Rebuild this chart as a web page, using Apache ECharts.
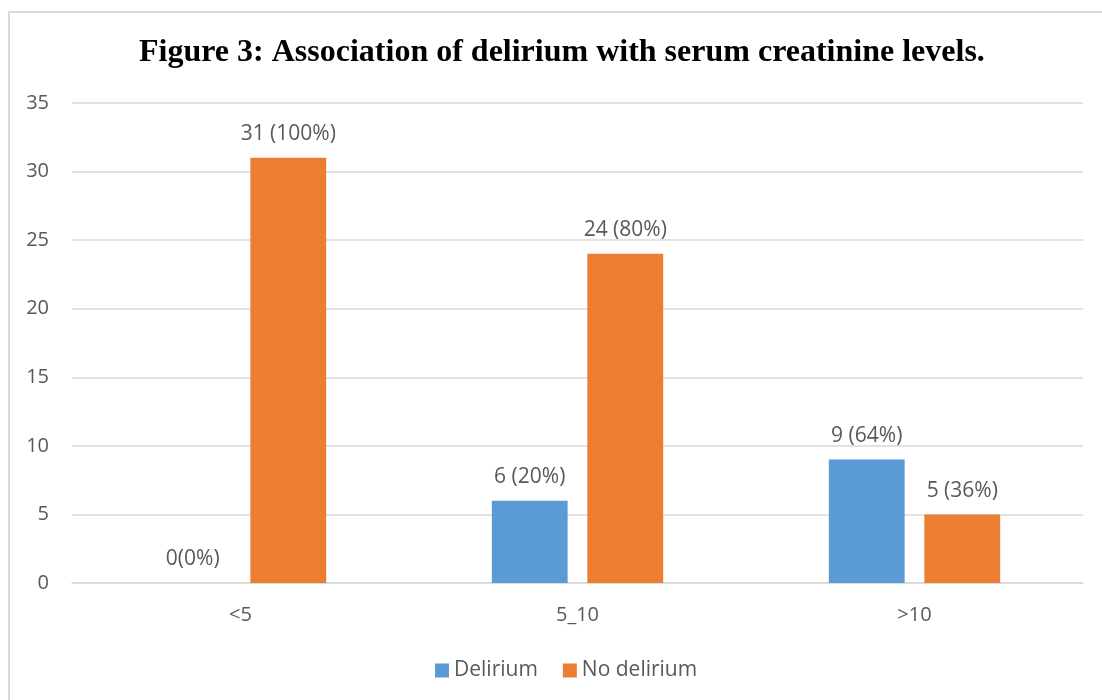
<!DOCTYPE html>
<html>
<head>
<meta charset="utf-8">
<script src="https://cdn.jsdelivr.net/npm/echarts@6/dist/echarts.min.js"></script>
<style>
  html, body { margin: 0; padding: 0; background: #fff; overflow: hidden; }
  #frame { position: absolute; left: 8px; top: 11px; width: 1200px; height: 800px;
           border: 2px solid #d9d9d9; box-sizing: border-box; }
  #chart { position: absolute; left: 0; top: 0; width: 1102px; height: 700px; }
</style>
</head>
<body>
<div id="frame"></div>
<div id="chart"></div>
<script>
// Serum creatinine groups and patient counts
const categories = ['<5', '5_10', '>10'];
const seriesNames = ['Delirium', 'No delirium'];
const deliriumCounts = [0, 6, 9];
const noDeliriumCounts = [31, 24, 5];
const deliriumPct = ['0%', '20%', '64%'];
const noDeliriumPct = ['100%', '80%', '36%'];
const yTicks = { min: 0, max: 35, interval: 5 };

const textColor = '#595959';
const font = 'Open Sans';

function labelFor(pcts) {
  return function (p) {
    const v = p.value;
    return v + (v === 0 ? '' : ' ') + '(' + pcts[p.dataIndex] + ')';
  };
}

const chart = echarts.init(document.getElementById('chart'), null, { renderer: 'canvas' });
chart.setOption({
  animation: false,
  backgroundColor: 'transparent',
  title: {
    text: 'Figure 3: Association of delirium with serum creatinine levels.',
    left: 134,
    top: 32,
    textStyle: { fontFamily: 'Liberation Serif', fontWeight: 'bold', fontSize: 32, color: '#000' }
  },
  legend: {
    data: seriesNames,
    left: 430,
    top: 655,
    itemWidth: 14,
    itemHeight: 14,
    itemGap: 25,
    icon: 'rect',
    textStyle: { fontFamily: font, fontSize: 21, color: textColor }
  },
  grid: { left: 72, right: 19, top: 103, bottom: 117, containLabel: false },
  xAxis: {
    type: 'category',
    data: categories,
    axisLine: { show: true, lineStyle: { color: '#d9d9d9', width: 1.5 } },
    axisTick: { show: false },
    axisLabel: { fontFamily: font, fontSize: 20, color: textColor, margin: 22 }
  },
  yAxis: {
    type: 'value',
    min: yTicks.min,
    max: yTicks.max,
    interval: yTicks.interval,
    axisLine: { show: false },
    axisTick: { show: false },
    axisLabel: { fontFamily: font, fontSize: 20, color: textColor, margin: 23 },
    splitLine: { lineStyle: { color: '#d9d9d9', width: 1.5 } }
  },
  series: [
    {
      name: seriesNames[0],
      type: 'bar',
      data: deliriumCounts,
      barWidth: '22.5%',
      barGap: '26%',
      itemStyle: { color: '#5B9BD5' },
      label: { show: true, position: 'top', distance: 13, formatter: labelFor(deliriumPct),
               fontFamily: font, fontSize: 21, color: textColor }
    },
    {
      name: seriesNames[1],
      type: 'bar',
      data: noDeliriumCounts,
      barWidth: '22.5%',
      barGap: '26%',
      itemStyle: { color: '#ED7D31' },
      label: { show: true, position: 'top', distance: 13, formatter: labelFor(noDeliriumPct),
               fontFamily: font, fontSize: 21, color: textColor }
    }
  ]
});
</script>
</body>
</html>
